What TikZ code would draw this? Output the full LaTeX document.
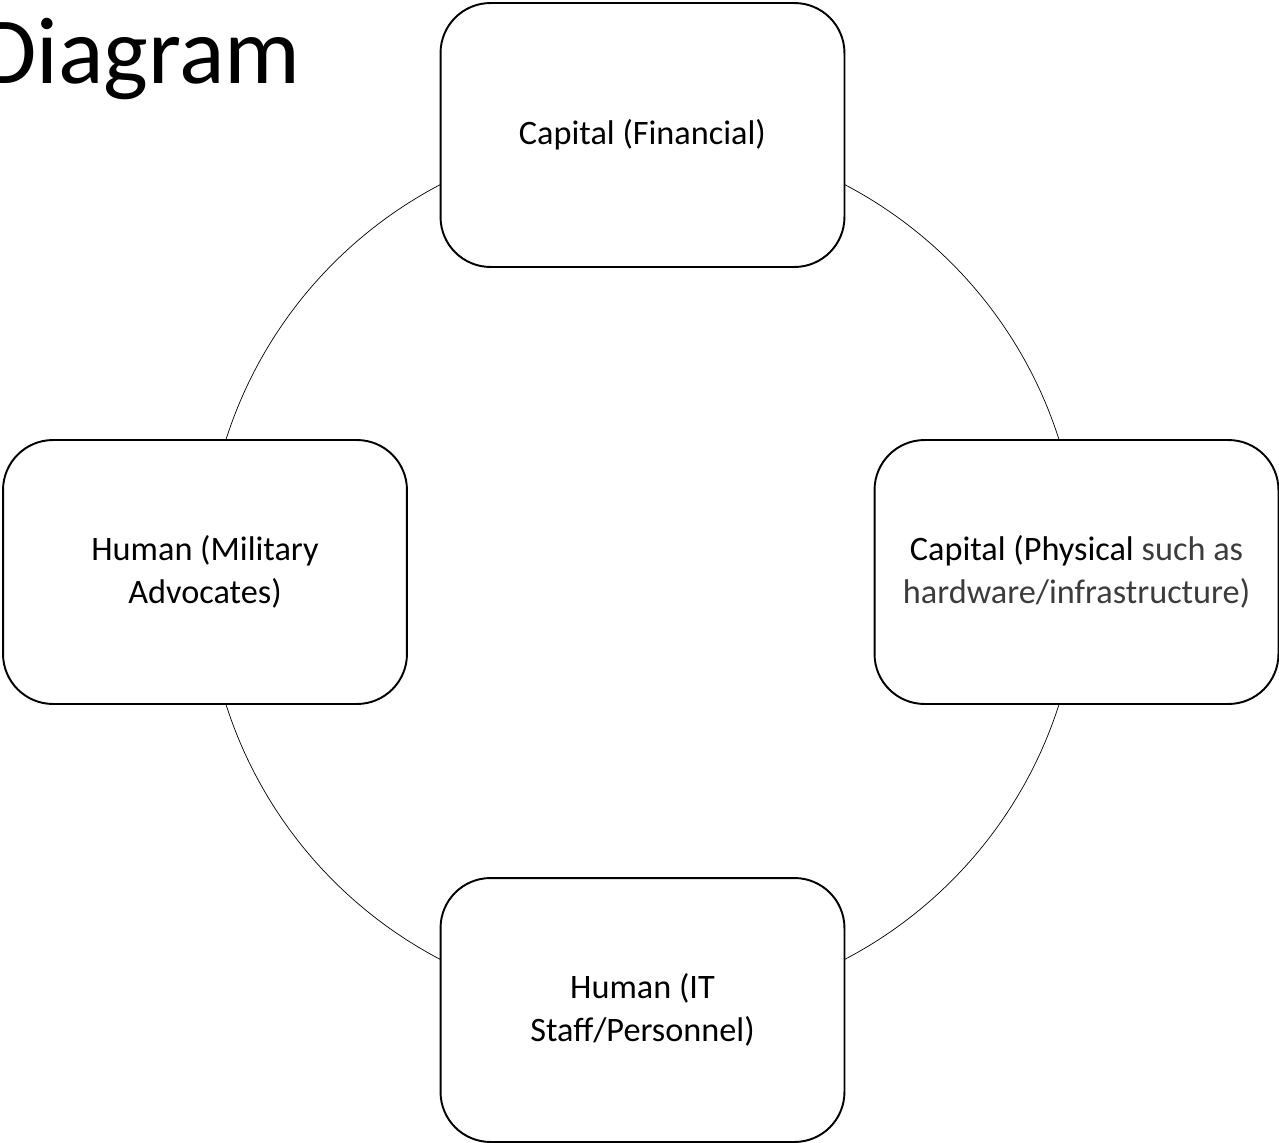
\documentclass[tikz,border=0pt]{standalone}
\usepackage{fontspec}
\setmainfont{Carlito}
\usetikzlibrary{positioning}
\tikzstyle{diagram} = [x = .02cm, y = -.02cm]
\newcommand{\boxFont}{\fontsize{19.5}{24.5}\selectfont}
\newcommand{\titleFont}{\fontsize{54}{60}\selectfont}
\definecolor{lightText}{RGB}{60,60,60}
\tikzstyle{resourceBox} = [draw, fill=white, rounded corners = 1cm, line width = 1.1pt, minimum width = 8.08cm, minimum height = 5.28cm, align = center, font = \boxFont]
\tikzstyle{cycleLine} = [color=black, line width = .4pt]
\newcommand{\cycleRadius}{8.74cm}

\begin{document}
\begin{tikzpicture}[diagram]
  \useasboundingbox (0,0) rectangle (1279,1143);
  \clip (0,0) rectangle (1279,1143);
  % title, cut at the left edge
  \node [anchor = base east, font = \titleFont, inner sep = 0] (title) at (301, 83) {Diagram};
  % the cycle behind the boxes
  \coordinate (centre) at (642.5, 572);
  \draw [cycleLine] (centre) circle (\cycleRadius);
  % resources
  \node [resourceBox] (financial) at (642.5, 135) {Capital (Financial)};
  \node [resourceBox] (physical) at (1076.5, 572) {Capital (Physical \textcolor{lightText}{such as}\\\textcolor{lightText}{hardware/infrastructure)}};
  \node [resourceBox] (itStaff) at (642.5, 1010) {Human (IT\\Staff/Personnel)};
  \node [resourceBox] (advocates) at (205, 572) {Human (Military\\Advocates)};
\end{tikzpicture}
\end{document}
